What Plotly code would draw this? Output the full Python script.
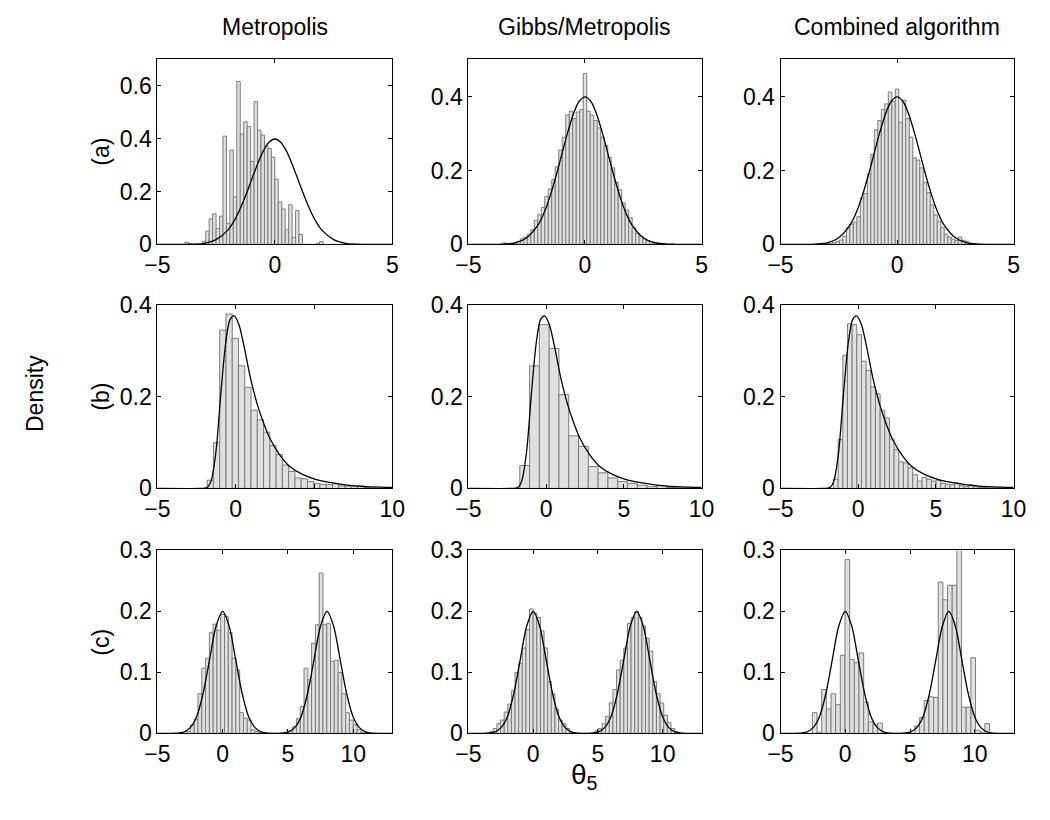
import plotly.graph_objects as go

FONT = "Liberation Sans, Arial, Helvetica, sans-serif"

# ---------------- text ----------------
column_titles = ["Metropolis", "Gibbs/Metropolis", "Combined algorithm"]
row_labels = ["(a)", "(b)", "(c)"]
x_label = "θ<sub>5</sub>"
y_label = "Density"

# ---------------- axes ----------------
row_x_ranges = [[-5, 5], [-5, 10], [-5, 13]]
row_x_ticks = [[-5, 0, 5], [-5, 0, 5, 10], [-5, 0, 5, 10]]
panel_y_max = [[0.7, 0.5, 0.5], [0.4, 0.4, 0.4], [0.3, 0.3, 0.3]]
panel_y_ticks = [
    [[0, 0.2, 0.4, 0.6], [0, 0.2, 0.4], [0, 0.2, 0.4]],
    [[0, 0.2, 0.4], [0, 0.2, 0.4], [0, 0.2, 0.4]],
    [[0, 0.1, 0.2, 0.3], [0, 0.1, 0.2, 0.3], [0, 0.1, 0.2, 0.3]],
]

# ---------------- histogram data (first bin centre, bin width, heights) ----------------
a1_start, a1_width = -3.75, 0.147
a1_heights = [0.008, 0.003, 0, 0, 0, 0.012, 0.05, 0.097, 0.116, 0.06, 0.107, 0.41, 0.08,
              0.357, 0.18, 0.617, 0.418, 0.464, 0.446, 0.314, 0.54, 0.432, 0.414, 0.375,
              0.363, 0.33, 0.247, 0.161, 0.134, 0.055, 0.15, 0.027, 0.128, 0.038, 0, 0,
              0, 0, 0.005, 0.011]

a2_start, a2_width = -3.6, 0.15
a2_heights = [0, 0.004, 0.001, 0.002, 0.004, 0.008, 0.015, 0.02, 0.028, 0.04, 0.065, 0.08,
              0.1, 0.13, 0.15, 0.175, 0.21, 0.255, 0.29, 0.35, 0.36, 0.34, 0.358, 0.365,
              0.462, 0.36, 0.35, 0.335, 0.315, 0.29, 0.268, 0.235, 0.207, 0.168, 0.148,
              0.112, 0.093, 0.072, 0.045, 0.03, 0.022, 0.015, 0.01, 0.008, 0.005, 0.004,
              0.002, 0.001, 0, 0.002]

a3_start, a3_width = -3.6, 0.15
a3_heights = [0, 0, 0.001, 0.001, 0.002, 0.003, 0.005, 0.008, 0.012, 0.022, 0.045, 0.055,
              0.06, 0.075, 0.125, 0.138, 0.19, 0.243, 0.31, 0.335, 0.365, 0.38, 0.412,
              0.386, 0.42, 0.33, 0.39, 0.34, 0.29, 0.234, 0.228, 0.207, 0.168, 0.14,
              0.107, 0.08, 0.063, 0.045, 0.028, 0.02, 0.014, 0.01, 0.02, 0.011, 0.008,
              0.003, 0.002, 0, 0, 0]

b1_start, b1_width = -1.62, 0.4
b1_heights = [0.018, 0.10, 0.346, 0.381, 0.328, 0.268, 0.221, 0.171, 0.15, 0.123, 0.094,
              0.074, 0.051, 0.037, 0.023, 0.021, 0.015, 0.011, 0.009, 0.008, 0.01, 0.006,
              0.005, 0.005, 0.006, 0.002, 0.001]

b2_start, b2_width = -1.38, 0.63
b2_heights = [0.05, 0.268, 0.358, 0.306, 0.205, 0.115, 0.092, 0.048, 0.034, 0.023, 0.015,
              0.011, 0.007, 0.004, 0.006, 0.002, 0.001, 0.001, 0.0005]

b3_start, b3_width = -1.44, 0.3
b3_heights = [0.02, 0.107, 0.291, 0.36, 0.358, 0.336, 0.278, 0.258, 0.222, 0.207, 0.171,
              0.154, 0.108, 0.085, 0.058, 0.056, 0.045, 0.03, 0.016, 0.024, 0.02, 0.016,
              0.018, 0.011, 0.009, 0.008, 0.012, 0.006, 0.004, 0.008, 0.004, 0.002, 0.002,
              0.001, 0.001, 0.001, 0.001, 0.0005]

c1_start, c1_width = -2.9, 0.29
c1_heights = [0, 0.003, 0.014, 0.023, 0.065, 0.107, 0.123, 0.165, 0.179, 0.169, 0.195,
              0.192, 0.165, 0.123, 0.104, 0.034, 0.025, 0.022, 0.006, 0.003, 0.002, 0, 0,
              0, 0, 0, 0, 0, 0.004, 0.011, 0.024, 0.044, 0.107, 0.088, 0.148, 0.178,
              0.263, 0.178, 0.18, 0.118, 0.12, 0.1, 0.065, 0.034, 0.022, 0.014, 0.006,
              0.002, 0.001]

c2_start, c2_width = -3.5, 0.28
c2_heights = [0.001, 0.003, 0.008, 0.016, 0.022, 0.035, 0.048, 0.07, 0.1, 0.115, 0.14,
              0.17, 0.204, 0.197, 0.19, 0.168, 0.14, 0.085, 0.065, 0.04, 0.022, 0.016,
              0.008, 0.002, 0.001, 0, 0, 0, 0, 0.001, 0.004, 0.008, 0.016, 0.028, 0.05,
              0.072, 0.104, 0.12, 0.14, 0.18, 0.19, 0.2, 0.19, 0.176, 0.156, 0.135,
              0.085, 0.065, 0.05, 0.03, 0.018, 0.008, 0.003, 0.001]

c3_start, c3_width = -2.36, 0.36
c3_heights = [0.034, 0.002, 0.072, 0.04, 0.065, 0.047, 0.128, 0.285, 0.121, 0.116, 0.132,
              0.051, 0.019, 0.014, 0.017, 0, 0, 0, 0, 0, 0, 0, 0.012, 0.026, 0.054, 0.06,
              0.059, 0.248, 0.219, 0.243, 0.243, 0.31, 0.043, 0.043, 0.124, 0.005, 0.002,
              0.016]

# ---------------- target density curves ----------------
curve_a_x = [-5, -4, -3.5, -3, -2.5, -2, -1.75, -1.5, -1.25, -1, -0.75, -0.5, -0.25, 0,
             0.25, 0.5, 0.75, 1, 1.25, 1.5, 1.75, 2, 2.5, 3, 3.5, 4, 5]
curve_a_y = [0, 0.0001, 0.001, 0.004, 0.018, 0.054, 0.086, 0.13, 0.183, 0.242, 0.301,
             0.352, 0.387, 0.399, 0.387, 0.352, 0.301, 0.242, 0.183, 0.13, 0.086, 0.054,
             0.018, 0.004, 0.001, 0.0001, 0]

curve_b_x = [-5, -2.1, -1.95, -1.78, -1.57, -1.26, -0.94, -0.63, -0.36, -0.1, 0.21, 0.52,
             0.94, 1.36, 1.78, 2.2, 2.82, 3.45, 4.3, 5.1, 6.4, 7.8, 10]
curve_b_y = [0, 0, 0.0005, 0.003, 0.016, 0.08, 0.21, 0.32, 0.369, 0.377, 0.358, 0.313,
             0.242, 0.186, 0.143, 0.108, 0.073, 0.048, 0.03, 0.02, 0.011, 0.005, 0.002]

curve_c_x = [-5, -4, -3.5, -3, -2.5, -2, -1.5, -1, -0.5, 0, 0.5, 1, 1.5, 2, 2.5, 3, 3.5, 4,
             4.5, 5, 5.5, 6, 6.5, 7, 7.5, 8, 8.5, 9, 9.5, 10, 10.5, 11, 11.5, 12, 13]
curve_c_y = [0, 0.0001, 0.0004, 0.002, 0.009, 0.027, 0.065, 0.121, 0.176, 0.2, 0.176,
             0.121, 0.065, 0.027, 0.009, 0.002, 0.0004, 0.0001, 0.0004, 0.002, 0.009,
             0.027, 0.065, 0.121, 0.176, 0.2, 0.176, 0.121, 0.065, 0.027, 0.009, 0.002,
             0.0004, 0.0001, 0]

histograms = [
    [(a1_start, a1_width, a1_heights), (a2_start, a2_width, a2_heights), (a3_start, a3_width, a3_heights)],
    [(b1_start, b1_width, b1_heights), (b2_start, b2_width, b2_heights), (b3_start, b3_width, b3_heights)],
    [(c1_start, c1_width, c1_heights), (c2_start, c2_width, c2_heights), (c3_start, c3_width, c3_heights)],
]
curves = [(curve_a_x, curve_a_y), (curve_b_x, curve_b_y), (curve_c_x, curve_c_y)]

# ---------------- layout geometry (pixels) ----------------
W, H = 1050, 820
FS = 23
col_px = [(148, 389), (467, 706), (787, 1026)]
row_px = [(48, 239), (302, 491), (555, 744)]

fig = go.Figure()
layout = dict(
    width=W, height=H, margin=dict(l=0, r=0, t=0, b=0),
    paper_bgcolor="white", plot_bgcolor="white",
    showlegend=False, barmode="overlay",
    font=dict(family=FONT, size=FS, color="black"),
)

for r in range(3):
    for c in range(3):
        p = r * 3 + c + 1
        xa = "x" if p == 1 else f"x{p}"
        ya = "y" if p == 1 else f"y{p}"
        start, width, heights = histograms[r][c]
        centers = [start + i * width for i in range(len(heights))]
        fig.add_trace(go.Bar(
            x=centers, y=heights, width=width,
            marker=dict(color="#e0e0e0", line=dict(color="#7c7c7c", width=1)),
            xaxis=xa, yaxis=ya,
        ))
        cx, cy = curves[r]
        fig.add_trace(go.Scatter(
            x=cx, y=cy, mode="lines",
            line=dict(color="black", width=1.3, shape="spline", smoothing=0.8),
            xaxis=xa, yaxis=ya,
        ))
        x0, x1 = col_px[c]
        y0, y1 = row_px[r]
        axis_common = dict(
            showline=True, linecolor="black", linewidth=1, mirror="ticks",
            ticks="inside", ticklen=4, tickcolor="black", tickwidth=1,
            showgrid=False, zeroline=False,
            tickfont=dict(family=FONT, size=FS, color="black"),
        )
        layout["xaxis" if p == 1 else f"xaxis{p}"] = dict(
            domain=[x0 / W, x1 / W], range=row_x_ranges[r],
            tickmode="array", tickvals=row_x_ticks[r], anchor=ya, **axis_common,
        )
        layout["yaxis" if p == 1 else f"yaxis{p}"] = dict(
            domain=[1 - y1 / H, 1 - y0 / H], range=[0, panel_y_max[r][c]],
            tickmode="array", tickvals=panel_y_ticks[r][c], anchor=xa, **axis_common,
        )

annotations = []
for c, t in enumerate(column_titles):
    x0, x1 = col_px[c]
    annotations.append(dict(text=t, x=(x0 + x1) / 2 / W, y=1 - 14 / H, xref="paper", yref="paper",
                            showarrow=False, xanchor="center", yanchor="middle",
                            font=dict(family=FONT, size=FS, color="black")))
for r, t in enumerate(row_labels):
    y0, y1 = row_px[r]
    annotations.append(dict(text=t, x=90 / W, y=1 - (y0 + y1) / 2 / H, xref="paper", yref="paper",
                            showarrow=False, textangle=-90, xanchor="center", yanchor="middle",
                            font=dict(family=FONT, size=FS, color="black")))
annotations.append(dict(text=y_label, x=22 / W, y=1 - 393 / H, xref="paper", yref="paper",
                        showarrow=False, textangle=-90, xanchor="center", yanchor="middle",
                        font=dict(family=FONT, size=FS, color="black")))
annotations.append(dict(text=x_label, x=(col_px[1][0] + col_px[1][1]) / 2 / W, y=1 - 788 / H,
                        xref="paper", yref="paper", showarrow=False,
                        xanchor="center", yanchor="middle",
                        font=dict(family=FONT, size=28, color="black")))
layout["annotations"] = annotations

fig.update_layout(**layout)
fig.write_html("out.html")
